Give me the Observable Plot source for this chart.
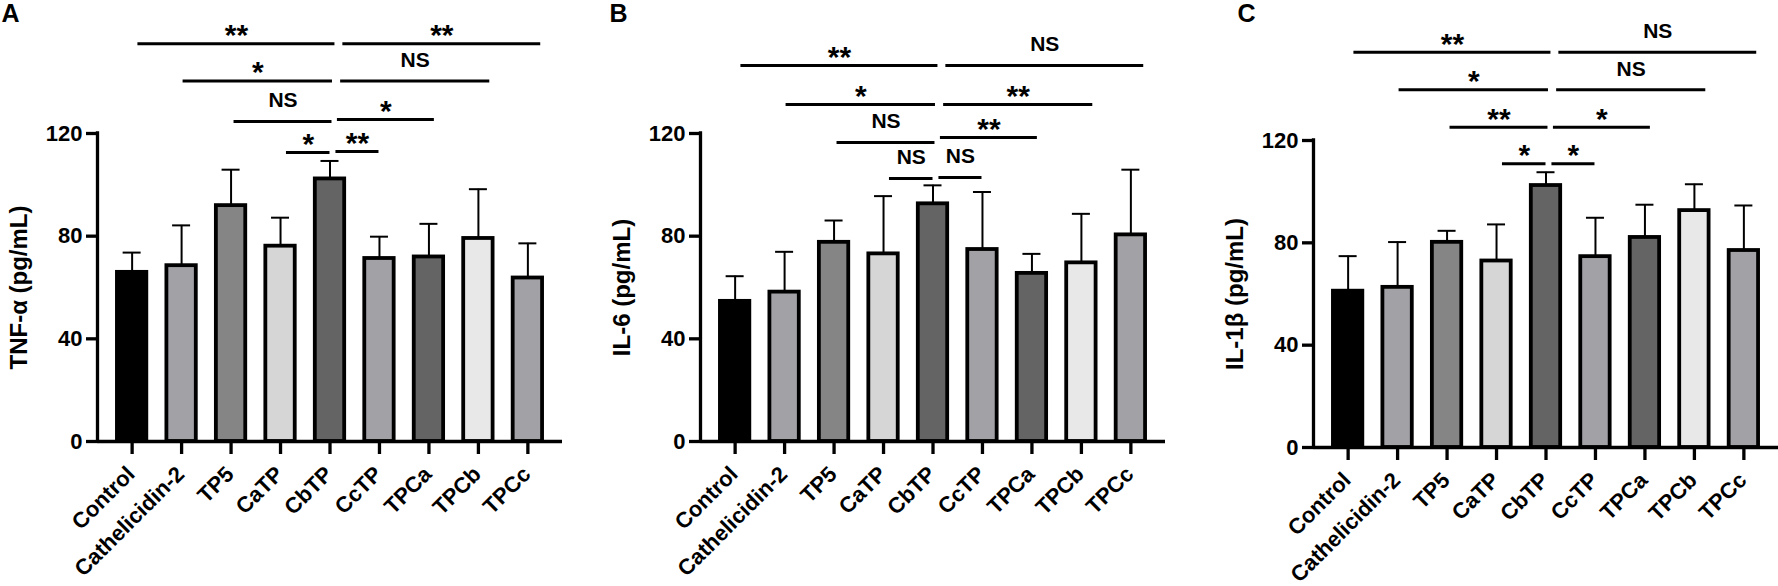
<!DOCTYPE html>
<html>
<head>
<meta charset="utf-8">
<script src="https://cdn.jsdelivr.net/npm/d3@7"></script>
<script src="https://cdn.jsdelivr.net/npm/@observablehq/plot@0.6"></script>
<style>
  html, body { margin: 0; padding: 0; background: #fff; }
  #wrap { display: flex; width: 1778px; height: 586px; overflow: hidden; }
  #wrap svg { display: block; flex: none; }
</style>
</head>
<body>
<div id="wrap"></div>
<script>
// ---------- data ----------
const groups = ["Control", "Cathelicidin-2", "TP5", "CaTP", "CbTP", "CcTP", "TPCa", "TPCb", "TPCc"];
const barFills = ["#000000", "#a2a1a6", "#858585", "#d6d6d6", "#646464", "#a2a1a6", "#646464", "#e8e8e8", "#a2a1a6"];
const yTicks = [0, 40, 80, 120];

// TNF-α (pg/mL): mean and SD
const tnfMean = [65.9, 68.5, 91.9, 76.1, 102.3, 71.3, 71.9, 79.1, 63.7];
const tnfSD   = [7.7, 15.7, 14.0, 11.1, 7.0, 8.5, 12.9, 19.2, 13.5];
// IL-6 (pg/mL)
const il6Mean = [54.6, 58.2, 77.6, 73.1, 92.6, 74.8, 65.5, 69.6, 80.5];
const il6SD   = [9.8, 15.7, 8.5, 22.5, 7.2, 22.4, 7.6, 19.1, 25.4];
// IL-1β (pg/mL)
const il1bMean = [61.1, 62.6, 80.2, 72.9, 102.4, 74.6, 82.1, 92.6, 77.0];
const il1bSD   = [13.7, 17.7, 4.5, 14.3, 5.2, 15.2, 12.8, 10.3, 17.6];

// significance brackets: [from, to, height (pg/mL), label]
const tnfSig = [
  ["Control", "CbTP", 155.0, "**"], ["CbTP", "TPCc", 155.0, "**"],
  ["Cathelicidin-2", "CbTP", 140.5, "*"], ["CbTP", "TPCb", 140.5, "NS"],
  ["TP5", "CbTP", 124.7, "NS"], ["CbTP", "TPCa", 125.5, "*"],
  ["CaTP", "CbTP", 112.6, "*"], ["CbTP", "CcTP", 113.0, "**"]
];
const il6Sig = [
  ["Control", "CbTP", 146.5, "**"], ["CbTP", "TPCc", 146.5, "NS"],
  ["Cathelicidin-2", "CbTP", 131.3, "*"], ["CbTP", "TPCb", 131.3, "**"],
  ["TP5", "CbTP", 116.5, "NS"], ["CbTP", "TPCa", 118.4, "**"],
  ["CaTP", "CbTP", 102.5, "NS"], ["CbTP", "CcTP", 102.9, "NS"]
];
const il1bSig = [
  ["Control", "CbTP", 154.5, "**"], ["CbTP", "TPCc", 154.5, "NS"],
  ["Cathelicidin-2", "CbTP", 139.8, "*"], ["CbTP", "TPCb", 139.8, "NS"],
  ["TP5", "CbTP", 125.2, "**"], ["CbTP", "TPCa", 125.2, "*"],
  ["CaTP", "CbTP", 110.9, "*"], ["CbTP", "CcTP", 110.9, "*"]
];

// ---------- layout ----------
const FONT = "'Liberation Sans', Arial, Helvetica, sans-serif";
const X_DOMAIN = [-0.7, 8.7];
const BAR_HALF = 0.297;   // half bar width in category steps
const CAP_HALF = 0.182;   // half error-cap width in category steps
// per-level bracket end nudges (category steps), level 0 = outermost
const nudgeLeftStart  = [0.117, 0.03, 0.06, 0.12];
const nudgeLeftEnd    = [0.10, 0.05, 0.04, 0.0];
const nudgeRightStart = [0.26, 0.215, 0.15, 0.12];
const nudgeRightEnd   = [0.26, 0.23, 0.11, -0.01];

function panel({letter, yLabel, mean, sd, sig, width, marginLeft, marginRight, marginBottom, yMax, letterDx}) {
  const rows = groups.map((g, i) => ({i, g, mean: mean[i], sd: sd[i], fill: barFills[i]}));
  const idx = (name) => groups.indexOf(name);
  const brackets = sig.map(([from, to, y, label], k) => {
    const level = Math.floor(k / 2);
    const left = to === "CbTP" && idx(from) < idx("CbTP");
    const x1 = idx(from) + (left ? nudgeLeftStart[level] : nudgeRightStart[level]);
    const x2 = idx(to) + (left ? nudgeLeftEnd[level] : nudgeRightEnd[level]);
    return {x1, x2, xm: (x1 + x2) / 2, y, label};
  });
  return Plot.plot({
    width, height: 586,
    marginTop: 0, marginBottom, marginLeft, marginRight,
    style: {fontFamily: FONT, fontWeight: "bold", color: "#000", background: "#fff", overflow: "visible"},
    x: {type: "linear", domain: X_DOMAIN, axis: null},
    y: {domain: [0, yMax], axis: null},
    color: {type: "identity"},
    marks: [
      Plot.rectY(rows, {x1: d => d.i - BAR_HALF, x2: d => d.i + BAR_HALF, y1: 0, y2: "mean",
        fill: "fill", stroke: "#000", strokeWidth: 3.8}),
      Plot.ruleX(rows, {x: "i", y1: "mean", y2: d => d.mean + d.sd, stroke: "#000", strokeWidth: 2}),
      Plot.ruleY(rows, {x1: d => d.i - CAP_HALF, x2: d => d.i + CAP_HALF, y: d => d.mean + d.sd,
        stroke: "#000", strokeWidth: 2}),
      // axes
      Plot.ruleY([0], {stroke: "#000", strokeWidth: 3.3}),
      Plot.ruleX([X_DOMAIN[0]], {y1: 0, y2: 120, stroke: "#000", strokeWidth: 3.3, strokeLinecap: "square"}),
      Plot.axisY({ticks: yTicks, tickSize: 11, tickPadding: 4, fontSize: 22, strokeWidth: 3.3,
        label: null, tickFormat: d => String(d)}),
      Plot.axisX({ticks: d3.range(groups.length), tickFormat: () => "", tickSize: 13,
        strokeWidth: 3.3, label: null}),
      Plot.axisX({ticks: d3.range(groups.length), tickFormat: i => groups[i], tickRotate: -45,
        textAnchor: "end", lineAnchor: "middle",
        tickSize: 0, tickPadding: 29, dx: -1, fontSize: 22, label: null}),
      Plot.text([{label: yLabel, y: 60}], {text: "label", y: "y", frameAnchor: "left", rotate: -90, dx: -78,
        textAnchor: "middle", lineAnchor: "middle", fontSize: 24, fill: "#000"}),
      // significance brackets
      Plot.ruleY(brackets, {x1: "x1", x2: "x2", y: "y", stroke: "#000", strokeWidth: 3}),
      Plot.text(brackets.filter(d => d.label === "NS"), {x: "xm", y: "y", text: "label",
        fontSize: 21, lineAnchor: "middle", dy: -21, fill: "#000"}),
      Plot.text(brackets.filter(d => d.label !== "NS"), {x: "xm", y: "y", text: "label",
        fontSize: 30, lineAnchor: "middle", dy: -8, fill: "#000"}),
      // panel letter
      Plot.text([letter], {text: d => d, frameAnchor: "top-left", textAnchor: "start", lineAnchor: "top",
        dx: letterDx, dy: 4, fontSize: 25, fill: "#000"})
    ]
  });
}

const wrap = document.getElementById("wrap");
wrap.append(panel({letter: "A", yLabel: "TNF-α (pg/mL)", mean: tnfMean, sd: tnfSD, sig: tnfSig,
  width: 590, marginLeft: 97, marginRight: 28, marginBottom: 145, yMax: 441 / 2.5667, letterDx: -96}));
wrap.append(panel({letter: "B", yLabel: "IL-6 (pg/mL)", mean: il6Mean, sd: il6SD, sig: il6Sig,
  width: 597, marginLeft: 110, marginRight: 22, marginBottom: 145, yMax: 441 / 2.5667, letterDx: -91}));
wrap.append(panel({letter: "C", yLabel: "IL-1β (pg/mL)", mean: il1bMean, sd: il1bSD, sig: il1bSig,
  width: 591, marginLeft: 126, marginRight: 0, marginBottom: 139, yMax: 447 / 2.5583, letterDx: -76}));
</script>
</body>
</html>
